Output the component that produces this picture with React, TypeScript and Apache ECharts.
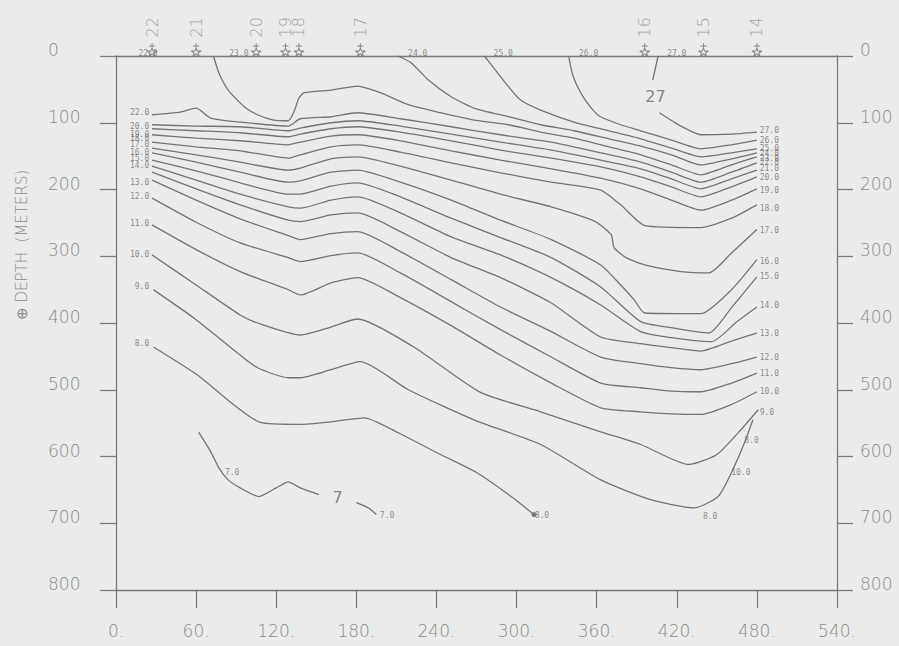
import React, { useEffect, useRef } from "react";
import * as echarts from "echarts";

type Pt = [number, number];

// ---- stations along the section (km) ----
const stationNames = ["22", "21", "20", "19", "18", "17", "16", "15", "14"];
const stationKm = [27, 60, 105, 127, 137, 183, 396, 440, 480];

// ---- isotherms starting at the surface ----
const iso23: Pt[] = [[73,0],[77,25],[84,51],[96,76],[106,88],[118,96],[129,97],[133,85],[137,63],[141,55],[161,51],[181,45],[198,55],[219,73],[243,85],[268,96],[294,103],[318,114],[343,123],[369,136],[393,148],[416,163],[438,178],[461,163],[480,151]];
const iso24: Pt[] = [[211,0],[221,10],[234,36],[251,61],[268,78],[294,91],[318,103],[343,112],[369,124],[393,135],[416,148],[438,163],[461,154],[480,145]];
const iso25: Pt[] = [[276,0],[281,13],[294,46],[303,66],[318,81],[343,99],[369,112],[393,124],[416,138],[438,151],[461,145],[480,139]];
const iso26: Pt[] = [[339,0],[342,28],[348,55],[356,78],[363,91],[378,103],[393,112],[416,126],[438,139],[461,133],[480,126]];
const iso27a: Pt[] = [[406,0],[402,36]];
const iso27b: Pt[] = [[407,85],[423,105],[438,118],[461,117],[480,114]];

// ---- isotherms starting at the left edge (top to bottom) ----
const line0: Pt[] = [[27,88],[48,84],[60,78],[71,93],[93,99],[129,105],[138,94],[161,91],[181,85],[213,94],[251,106],[288,118],[326,129],[363,145],[393,159],[416,174],[438,189],[461,174],[480,160]];
const line1: Pt[] = [[27,103],[60,105],[93,106],[129,112],[138,108],[161,100],[181,97],[213,105],[251,117],[288,129],[326,141],[363,156],[393,169],[416,184],[438,199],[461,184],[480,171]];
const line2: Pt[] = [[27,109],[60,112],[93,115],[129,121],[138,117],[161,109],[181,106],[213,114],[251,127],[288,141],[326,153],[363,166],[393,181],[416,196],[438,211],[461,196],[480,181]];
const line3: Pt[] = [[27,118],[60,123],[93,127],[129,133],[138,129],[161,120],[181,118],[213,127],[251,142],[288,156],[326,169],[363,183],[393,199],[416,216],[438,231],[461,216],[480,199]];
const line4: Pt[] = [[27,129],[60,136],[93,142],[129,153],[138,148],[161,136],[181,133],[213,144],[251,160],[288,175],[326,189],[363,201],[378,223],[396,254],[438,257],[461,243],[480,223]];
const line5: Pt[] = [[27,138],[60,148],[93,159],[129,171],[138,168],[161,154],[181,151],[213,165],[251,186],[288,207],[326,226],[359,248],[371,268],[373,287],[382,302],[396,313],[423,323],[444,325],[461,295],[480,260]];
const line6: Pt[] = [[27,145],[60,159],[93,174],[129,189],[138,187],[161,174],[181,171],[213,189],[251,216],[288,246],[326,275],[363,313],[378,343],[388,365],[396,385],[438,386],[461,350],[480,305]];
const line7: Pt[] = [[27,156],[60,172],[93,190],[129,207],[138,207],[161,195],[181,190],[213,211],[251,243],[288,272],[326,302],[363,346],[393,398],[416,407],[444,415],[461,377],[480,331]];
const line8: Pt[] = [[27,165],[60,186],[93,207],[129,226],[138,228],[161,216],[181,211],[213,235],[251,271],[288,298],[326,332],[363,373],[393,413],[416,422],[446,428],[465,398],[480,376]];
const line9: Pt[] = [[27,174],[60,199],[93,223],[129,246],[138,248],[161,238],[181,235],[213,263],[251,302],[288,332],[326,370],[363,421],[393,431],[416,437],[438,442],[461,427],[480,415]];
const line10: Pt[] = [[27,186],[60,216],[93,244],[129,269],[138,275],[161,266],[181,263],[213,293],[251,335],[288,376],[326,413],[363,451],[393,461],[416,467],[438,470],[461,461],[480,451]];
const line11: Pt[] = [[27,213],[60,249],[93,280],[129,302],[138,308],[161,299],[181,295],[213,325],[251,368],[288,410],[326,451],[363,490],[393,497],[416,502],[438,503],[461,490],[480,475]];
const line12: Pt[] = [[27,253],[60,290],[93,323],[129,350],[138,358],[161,340],[181,332],[213,362],[251,404],[288,448],[326,490],[363,527],[393,533],[416,536],[438,537],[461,522],[480,503]];
const line13: Pt[] = [[27,298],[60,343],[93,388],[106,400],[138,418],[161,406],[181,394],[223,436],[273,504],[318,533],[363,563],[393,582],[429,612],[450,597],[468,560],[481,530]];
const line14: Pt[] = [[28,350],[60,395],[93,448],[106,467],[129,482],[138,482],[161,470],[183,458],[219,500],[268,545],[318,582],[363,635],[401,665],[433,677],[451,660],[461,624],[471,578],[477,545]];
const line15: Pt[] = [[28,436],[61,478],[86,519],[108,549],[138,552],[161,548],[186,542],[211,564],[243,597],[270,624],[296,660],[313,687]];
const iso7a: Pt[] = [[62,564],[71,593],[77,617],[84,635],[93,647],[107,660],[120,647],[129,638],[138,647],[152,657]];
const iso7b: Pt[] = [[180,669],[189,677],[195,687]];

const contourLines: Pt[][] = [
  iso23, iso24, iso25, iso26, iso27a, iso27b,
  line0, line1, line2, line3, line4, line5, line6, line7, line8, line9,
  line10, line11, line12, line13, line14, line15, iso7a, iso7b,
];

// ---- contour labels ----
const leftLabelText = ["22.0","20.0","19.0","18.0","17.0","16.0","15.0","14.0","13.0","12.0","11.0","10.0","9.0","8.0"];
const leftLabelDepth = [85,105,117,124,133,144,153,164,190,211,251,298,346,430];
const rightLabelText = ["27.0","26.0","25.0","24.0","23.0","22.0","21.0","20.0","19.0","18.0","17.0","16.0","15.0","14.0","13.0","12.0","11.0","10.0","9.0"];
const rightLabelDepth = [111,126,139,146,153,160,168,182,201,229,262,308,331,374,415,451,475,503,534];
const surfaceLabelText = ["22.0","23.0","24.0","25.0","26.0","27.0"];
const surfaceLabelKm = [18,86,220,284,348,414];
const innerLabelText = ["7.0","7.0","8.0","8.0","10.0","8.0"];
const innerLabelKm = [87,203,319,476,468,445];
const innerLabelDepth = [624,689,689,576,624,690];
const bigLabelText = ["7","27"];
const bigLabelKm = [166,404];
const bigLabelDepth = [662,61];
const dotKm = [313];
const dotDepth = [687];

const LINE = "#737373";
const AXIS = "#7a7a7a";
const TXT = "#8a8a8a";
const SANS = "'DejaVu Sans', sans-serif";
const MONO = "'DejaVu Sans Mono', monospace";

const stationSymbol =
  "path://M5,0 L5,5 M2,3 L8,3 M5,5 L6.2,8 L10,8 L7,10 L8,13 L5,11 L2,13 L3,10 L0,8 L3.8,8 Z";

export default function App() {
  const ref = useRef<HTMLDivElement>(null);
  useEffect(() => {
    if (!ref.current) return;
    const chart = echarts.init(ref.current, undefined, { renderer: "svg" });

    const smallLabel = { fontSize: 8, lineHeight: 8, color: "#6e6e6e", fontFamily: MONO };
    const textPoint = (
      x: number,
      y: number,
      text: string,
      position: string,
      extra: any = {}
    ) => ({
      value: [x, y],
      label: { show: true, formatter: text, position, distance: 1, ...smallLabel, ...extra },
    });

    const lineSeries = contourLines.map((pts) => ({
      type: "line",
      data: pts,
      symbol: "none",
      showSymbol: false,
      smooth: 0.2,
      silent: true,
      clip: false,
      lineStyle: { color: LINE, width: 1.3 },
    }));

    const axisLineStyle = { color: AXIS, width: 1.3 };
    const yLabel = {
      align: "left",
      verticalAlign: "bottom",
      lineHeight: 12,
      fontSize: 17,
      color: TXT,
      fontFamily: SANS,
      fontWeight: 300,
    };

    chart.setOption({
      animation: false,
      backgroundColor: "#ebebeb",
      grid: { left: 116, right: 62, top: 56, bottom: 56 },
      xAxis: [
        {
          type: "value",
          position: "bottom",
          min: 0,
          max: 540,
          interval: 60,
          axisLine: { show: true, onZero: false, lineStyle: axisLineStyle },
          axisTick: { show: true, length: 18, lineStyle: axisLineStyle },
          axisLabel: {
            formatter: (v: number) => `${v}.`,
            margin: 32,
            fontSize: 17,
            color: TXT,
            fontFamily: SANS,
            fontWeight: 300,
          },
          splitLine: { show: false },
        },
        {
          type: "value",
          position: "top",
          min: 0,
          max: 540,
          axisLine: { show: true, onZero: false, lineStyle: axisLineStyle },
          axisTick: { show: false },
          axisLabel: { show: false },
          splitLine: { show: false },
        },
      ],
      yAxis: [
        {
          type: "value",
          inverse: true,
          position: "left",
          min: 0,
          max: 800,
          interval: 100,
          axisLine: { show: true, onZero: false, lineStyle: axisLineStyle },
          axisTick: { show: true, length: 16, lineStyle: axisLineStyle },
          axisLabel: { ...yLabel, margin: 68 },
          splitLine: { show: false },
        },
        {
          type: "value",
          inverse: true,
          position: "right",
          min: 0,
          max: 800,
          interval: 100,
          axisLine: { show: true, onZero: false, lineStyle: axisLineStyle },
          axisTick: { show: true, length: 16, lineStyle: axisLineStyle },
          axisLabel: { ...yLabel, margin: 23 },
          splitLine: { show: false },
        },
      ],
      graphic: [
        {
          type: "text",
          x: 22,
          y: 245,
          rotation: Math.PI / 2,
          style: {
            text: "\u2295 DEPTH  (METERS)",
            fontSize: 15,
            fill: TXT,
            fontFamily: SANS,
            fontWeight: 300,
            align: "center",
            verticalAlign: "middle",
          },
        },
      ],
      series: [
        ...lineSeries,
        {
          type: "scatter",
          silent: true,
          symbol: stationSymbol,
          symbolSize: [10, 13],
          symbolOffset: [0, -6.5],
          itemStyle: { color: "rgba(0,0,0,0)", borderColor: "#6a6a6a", borderWidth: 1 },
          label: {
            show: true,
            position: "top",
            distance: 5,
            rotate: 90,
            align: "left",
            verticalAlign: "middle",
            fontSize: 16,
            color: TXT,
            fontFamily: SANS,
            fontWeight: 300,
            formatter: (p: any) => stationNames[p.dataIndex],
          },
          data: stationKm.map((k) => [k, 0]),
        },
        {
          type: "scatter",
          silent: true,
          symbolSize: 1,
          itemStyle: { color: "rgba(0,0,0,0)" },
          data: [
            ...leftLabelText.map((t, i) => textPoint(26, leftLabelDepth[i], t, "left")),
            ...rightLabelText.map((t, i) => textPoint(481, rightLabelDepth[i], t, "right")),
            ...surfaceLabelText.map((t, i) =>
              textPoint(surfaceLabelKm[i], 0, t, "inside", { offset: [8, -3] })
            ),
            ...innerLabelText.map((t, i) =>
              textPoint(innerLabelKm[i], innerLabelDepth[i], t, "inside")
            ),
            ...bigLabelText.map((t, i) =>
              textPoint(bigLabelKm[i], bigLabelDepth[i], t, "inside", {
                fontSize: 16,
                lineHeight: 16,
                fontFamily: SANS,
                color: "#6a6a6a",
              })
            ),
          ],
        },
        {
          type: "scatter",
          silent: true,
          symbolSize: 5,
          itemStyle: { color: "#5f5f5f" },
          data: dotKm.map((k, i) => [k, dotDepth[i]]),
        },
      ],
    });
    return () => chart.dispose();
  }, []);

  return (
    <div
      ref={ref}
      style={{ position: "absolute", left: 0, top: 0, width: 899, height: 646 }}
    />
  );
}
